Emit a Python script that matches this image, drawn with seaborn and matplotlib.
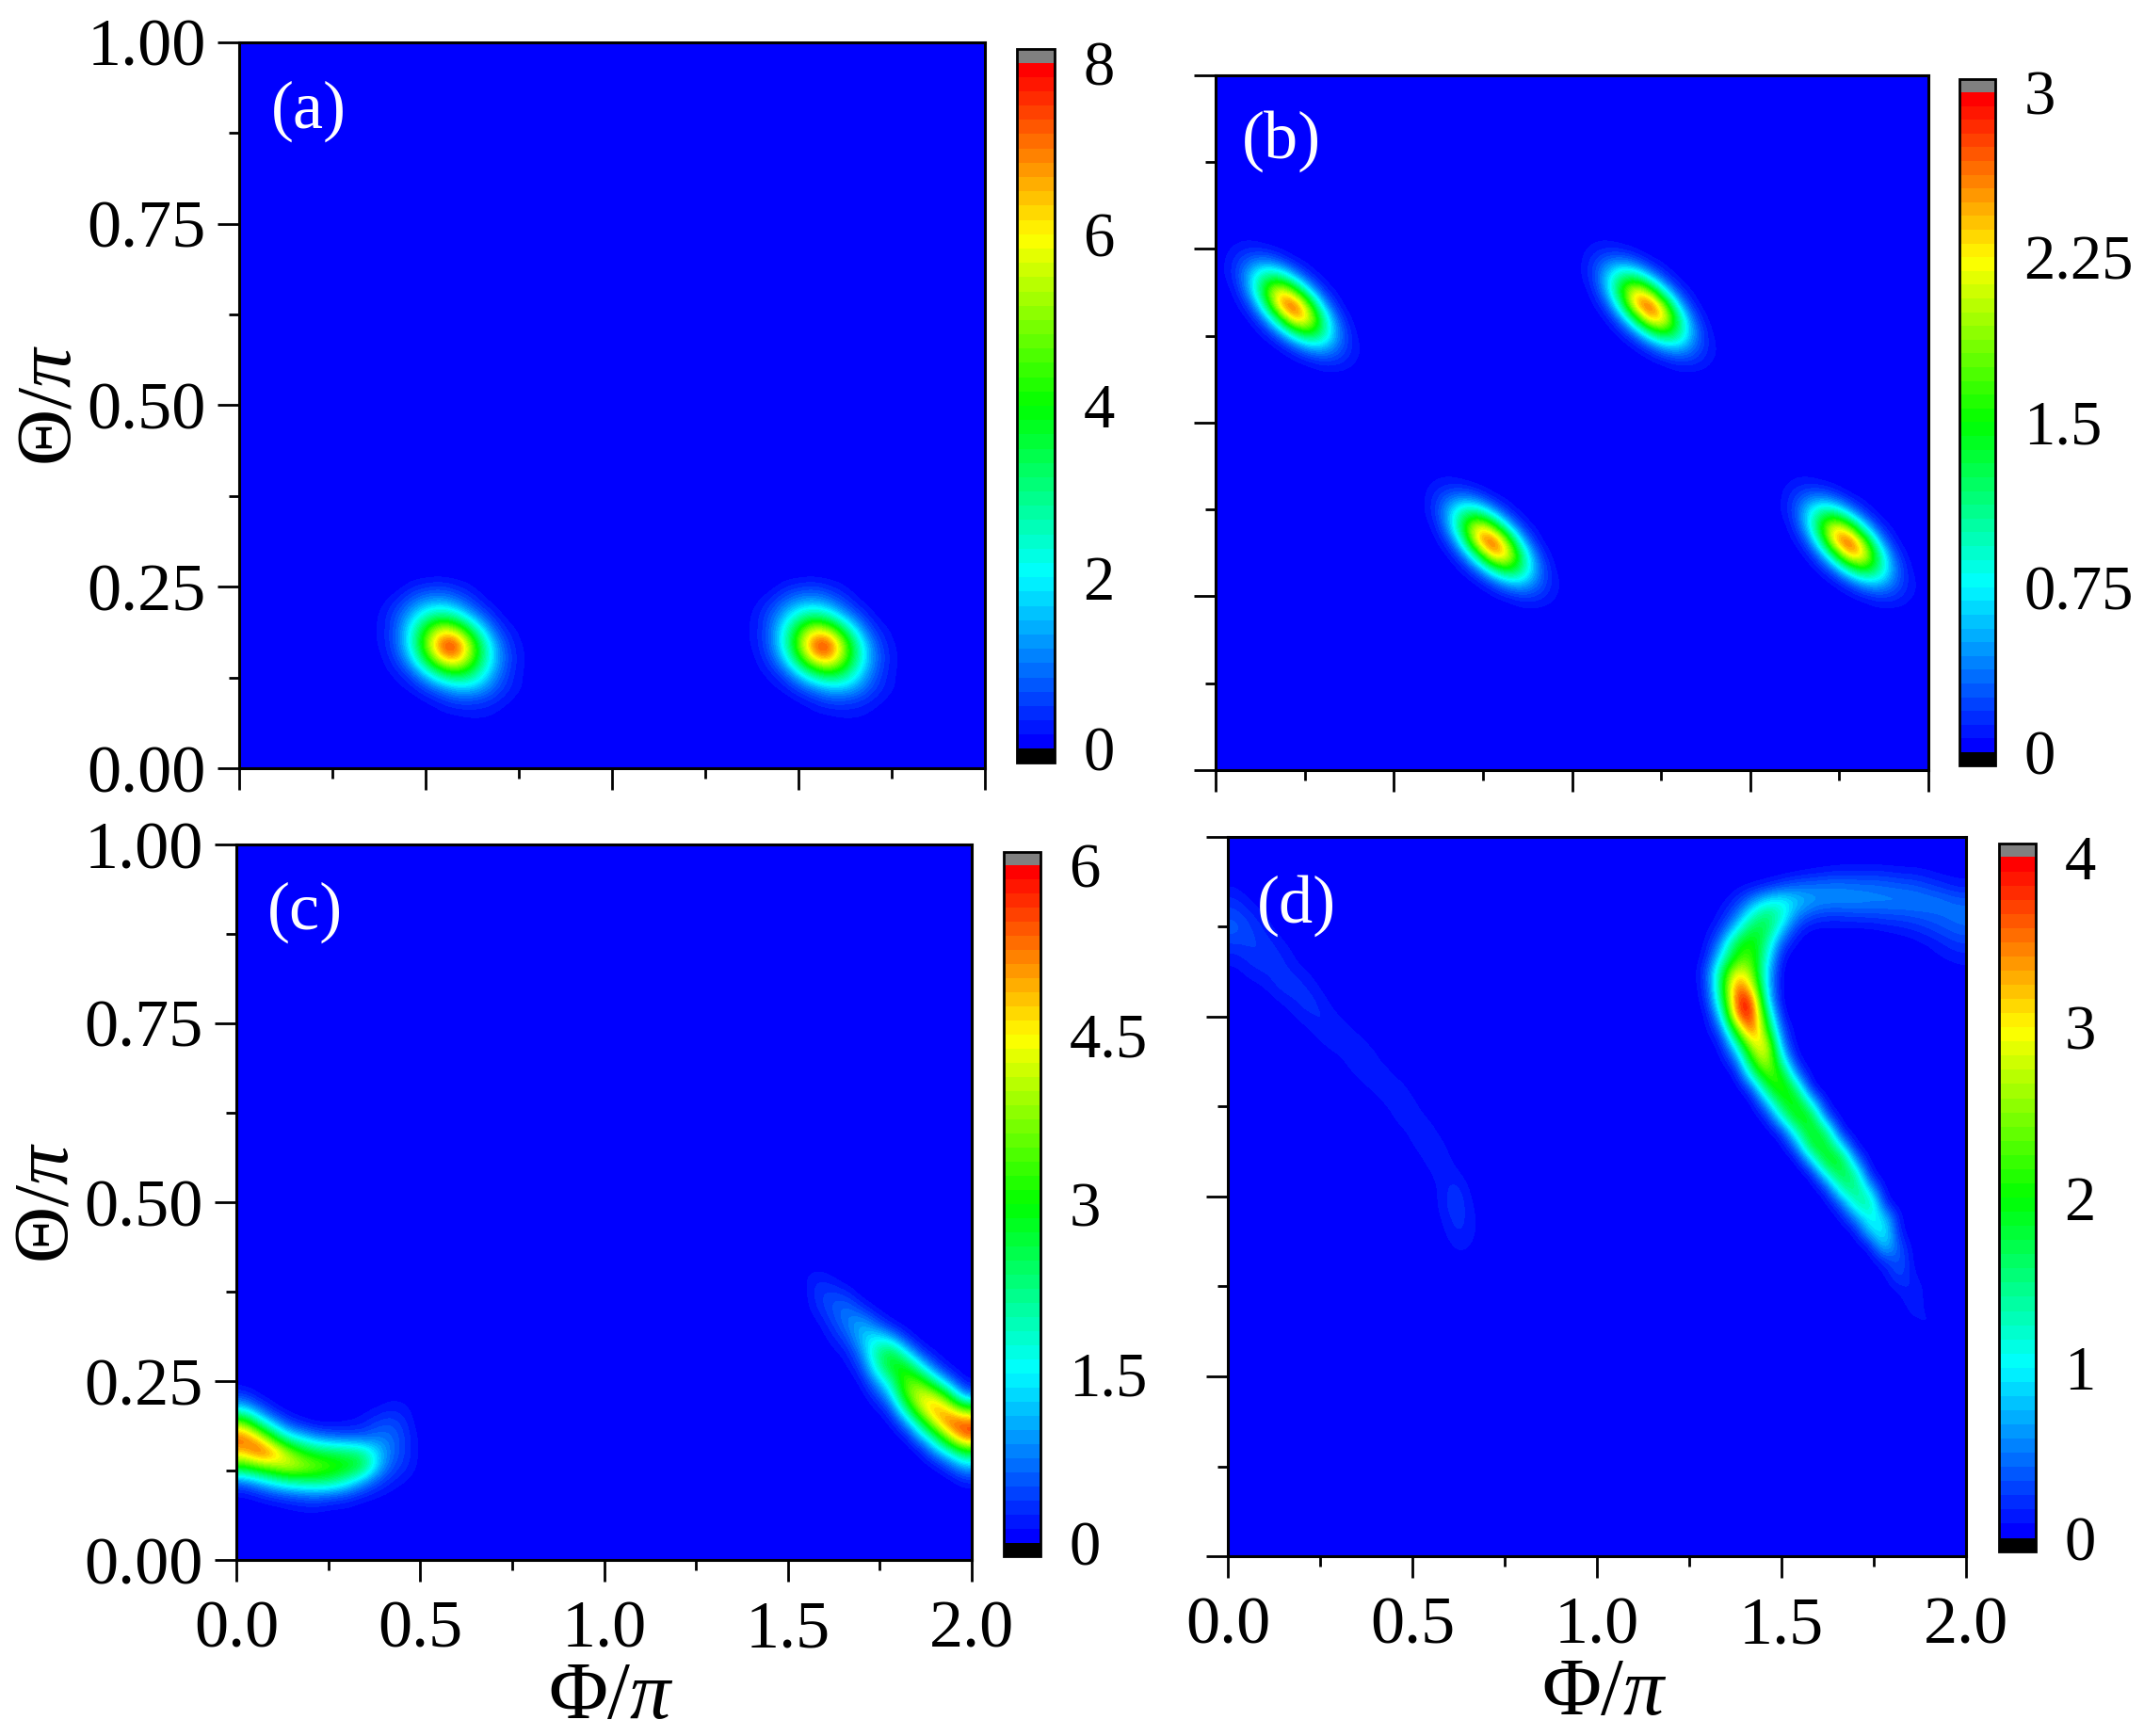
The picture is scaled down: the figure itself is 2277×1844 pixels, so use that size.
import numpy as np
import pandas as pd
import matplotlib
matplotlib.use("Agg")
import matplotlib.pyplot as plt
from matplotlib.colors import LinearSegmentedColormap
from matplotlib.ticker import MultipleLocator
import seaborn as sns

GRID = 50
TOPS = [8, 3, 6, 4]
BAR_TICKS = [[0, 2, 4, 6, 8], [0, 0.75, 1.5, 2.25, 3], [0, 1.5, 3, 4.5, 6], [0, 1, 2, 3, 4]]
BAR_LABELS = [["0", "2", "4", "6", "8"], ["0", "0.75", "1.5", "2.25", "3"],
              ["0", "1.5", "3", "4.5", "6"], ["0", "1", "2", "3", "4"]]
PHI_TICKS = [0.0, 0.5, 1.0, 1.5, 2.0]
THETA_TICKS = [0.0, 0.25, 0.5, 0.75, 1.0]
PANEL_NAMES = ["(a)", "(b)", "(c)", "(d)"]

# (a) two equal spots, reference cell is index [4][5]
a_phi = [0.55, 1.55]
a_theta = [0.166, 0.166]
a_spot = [
    [0, 0, 0, 3, 5, 6, 4, 2, 0, 0, 0, 0],
    [0, 1, 4, 10, 15, 17, 13, 7, 2, 0, 0, 0],
    [1, 2, 8, 18, 31, 38, 32, 18, 8, 2, 0, 0],
    [1, 2, 9, 26, 52, 74, 69, 44, 20, 6, 2, 0],
    [1, 2, 9, 27, 60, 94, 99, 67, 33, 12, 3, 1],
    [0, 1, 6, 19, 46, 76, 86, 63, 34, 14, 4, 1],
    [0, 1, 2, 8, 21, 38, 48, 42, 25, 11, 3, 1],
    [0, 0, 1, 2, 7, 13, 19, 20, 15, 7, 3, 1],
    [0, 0, 0, 0, 1, 3, 6, 6, 5, 3, 1, 0],
    [0, 0, 0, 0, 0, 1, 1, 2, 2, 1, 0, 0],
]

# (b) four equal spots, peak cell is index [5][5]
b_phi = [0.214, 1.213, 0.782, 1.775]
b_theta = [0.667, 0.667, 0.333, 0.333]
b_spot = [
    [0, 1, 1, 0, 0, 0, 0, 0, 0, 0, 0],
    [1, 3, 4, 3, 1, 0, 0, 0, 0, 0, 0],
    [1, 6, 13, 16, 10, 3, 1, 0, 0, 0, 0],
    [1, 6, 22, 40, 39, 19, 5, 1, 0, 0, 0],
    [0, 3, 19, 54, 80, 60, 24, 5, 1, 0, 0],
    [0, 1, 8, 37, 87, 98, 62, 19, 3, 0, 0],
    [0, 0, 2, 13, 46, 87, 80, 39, 10, 1, 0],
    [0, 0, 0, 3, 13, 37, 54, 40, 16, 3, 0],
    [0, 0, 0, 0, 2, 8, 19, 22, 13, 4, 1],
    [0, 0, 0, 0, 0, 1, 3, 6, 6, 3, 1],
    [0, 0, 0, 0, 0, 0, 0, 1, 1, 1, 0],
]

# (c) left band, cols 0-12, rows 38-46
c_left_col0, c_left_row0 = 0, 38
c_left = [
    [6, 1, 0, 0, 0, 0, 0, 0, 0, 0, 1, 1, 0],
    [24, 12, 3, 0, 0, 0, 0, 0, 1, 2, 4, 3, 0],
    [65, 38, 20, 8, 3, 1, 1, 2, 3, 7, 9, 5, 0],
    [92, 80, 52, 30, 23, 15, 12, 11, 10, 13, 12, 6, 1],
    [80, 94, 88, 68, 52, 45, 42, 40, 37, 24, 12, 6, 1],
    [50, 58, 65, 72, 68, 62, 57, 52, 46, 23, 9, 5, 1],
    [12, 20, 28, 35, 38, 40, 38, 30, 18, 9, 4, 2, 0],
    [1, 3, 6, 8, 10, 11, 9, 7, 4, 2, 1, 0, 0],
    [0, 0, 0, 1, 2, 2, 1, 1, 0, 0, 0, 0, 0],
]

# (c) right band, cols 38-49, rows 29-44
c_right_col0, c_right_row0 = 38, 29
c_right = [
    [1, 1, 0, 0, 0, 0, 0, 0, 0, 0, 0, 0],
    [1, 5, 3, 0, 0, 0, 0, 0, 0, 0, 0, 0],
    [0, 6, 8, 6, 0, 0, 0, 0, 0, 0, 0, 0],
    [0, 4, 9, 13, 7, 1, 0, 0, 0, 0, 0, 0],
    [0, 1, 6, 13, 19, 10, 2, 0, 0, 0, 0, 0],
    [0, 0, 3, 8, 20, 27, 19, 5, 0, 0, 0, 0],
    [0, 0, 1, 3, 14, 35, 47, 25, 6, 1, 0, 0],
    [0, 0, 0, 1, 7, 30, 50, 52, 28, 8, 1, 0],
    [0, 0, 0, 0, 2, 16, 34, 60, 58, 33, 12, 1],
    [0, 0, 0, 0, 0, 6, 20, 56, 75, 70, 45, 12],
    [0, 0, 0, 0, 0, 1, 7, 34, 68, 87, 78, 58],
    [0, 0, 0, 0, 0, 0, 1, 12, 38, 70, 93, 94],
    [0, 0, 0, 0, 0, 0, 0, 1, 15, 35, 66, 90],
    [0, 0, 0, 0, 0, 0, 0, 0, 1, 14, 27, 45],
    [0, 0, 0, 0, 0, 0, 0, 0, 0, 1, 8, 18],
    [0, 0, 0, 0, 0, 0, 0, 0, 0, 0, 0, 4],
]

# (d) main arc, one list per row from row 2, each starting at its own column
d_main_row0 = 2
d_main_cols = [38, 34, 33, 33, 32, 32, 32, 32, 32, 32, 32, 32, 33, 33, 34, 35, 36, 36,
               37, 38, 39, 39, 40, 41, 41, 42, 43, 44, 44, 45, 46, 46, 47]
d_main = [
    [1, 2, 3, 4, 4, 4, 4, 3, 3, 2, 1, 1],
    [1, 2, 4, 8, 11, 12, 13, 13, 12, 12, 11, 10, 9, 7, 5, 3],
    [1, 5, 14, 24, 27, 22, 17, 15, 15, 15, 14, 14, 14, 14, 13, 12, 10],
    [3, 12, 30, 42, 32, 14, 8, 6, 6, 7, 7, 8, 8, 9, 10, 11, 12],
    [1, 7, 25, 46, 44, 21, 5, 1, 1, 1, 1, 1, 2, 3, 4, 6, 8, 10],
    [2, 17, 47, 55, 35, 8, 1, 0, 0, 0, 0, 0, 0, 0, 1, 2, 4, 6],
    [4, 28, 55, 58, 28, 2, 0, 0, 0, 0, 0, 0, 0, 0, 0, 1, 2, 3],
    [8, 43, 78, 64, 22, 0, 0, 0, 0, 0, 0, 0, 0, 0, 0, 0, 0, 1],
    [6, 45, 95, 76, 22],
    [4, 38, 98, 100, 25],
    [1, 24, 92, 100, 42, 2],
    [1, 10, 58, 97, 55, 8],
    [3, 30, 72, 78, 14],
    [1, 12, 53, 76, 30, 2],
    [2, 33, 62, 52, 12],
    [8, 42, 60, 38, 2],
    [18, 47, 55, 25, 1],
    [3, 28, 52, 50, 10],
    [5, 32, 52, 40, 3],
    [12, 47, 50, 25, 1],
    [20, 50, 50, 14],
    [1, 26, 47, 37, 2],
    [4, 32, 42, 20],
    [9, 33, 38, 3],
    [1, 14, 30, 22, 1],
    [1, 22, 28, 2],
    [2, 24, 8],
    [5, 11],
    [1, 9, 2],
    [3, 5],
    [5],
    [2, 3],
    [2],
]

# (d) faint band on the left, from row 3
d_faint_row0 = 3
d_faint_cols = [0, 0, 0, 0, 0, 0, 0, 1, 3, 4, 5, 6, 7, 8, 9, 10, 11, 11, 12, 13, 13, 14, 14,
                14, 14, 15, 15]
d_faint = [
    [2],
    [5, 2],
    [8, 5, 2],
    [10, 7, 4, 1],
    [6, 7, 6, 3, 1],
    [3, 5, 7, 5, 2],
    [1, 3, 4, 6, 4, 2],
    [1, 2, 5, 6, 4, 1],
    [2, 4, 6, 3],
    [2, 4, 5, 2],
    [2, 4, 5, 2],
    [2, 4, 5, 2],
    [1, 4, 5, 1],
    [2, 4, 4, 1],
    [2, 4, 4, 1],
    [2, 4, 3],
    [3, 4, 2],
    [1, 3, 4, 1],
    [2, 4, 3],
    [3, 4, 1],
    [1, 4, 3],
    [3, 6, 1],
    [3, 7, 2],
    [2, 6, 3],
    [1, 5, 3],
    [3, 2],
    [1, 1],
]


def grid_col(phi):
    return int(round(phi / 2 * GRID - 0.5))


def grid_row(theta):
    return int(round((1 - theta) * GRID - 0.5))


def paste(field, col, row, rows):
    for i, vals in enumerate(rows):
        field[row + i, col:col + len(vals)] = vals


def paste_rows(field, row0, cols, rows):
    for i, (col, vals) in enumerate(zip(cols, rows)):
        field[row0 + i, col:col + len(vals)] = vals


def build_fields():
    fields = [np.zeros((GRID, GRID)) for _ in range(4)]
    for phi, theta in zip(a_phi, a_theta):
        paste(fields[0], grid_col(phi) - 5, grid_row(theta) - 4, a_spot)
    for phi, theta in zip(b_phi, b_theta):
        paste(fields[1], grid_col(phi) - 5, grid_row(theta) - 5, b_spot)
    paste(fields[2], c_left_col0, c_left_row0, c_left)
    paste(fields[2], c_right_col0, c_right_row0, c_right)
    paste_rows(fields[3], d_main_row0, d_main_cols, d_main)
    paste_rows(fields[3], d_faint_row0, d_faint_cols, d_faint)
    return [pd.DataFrame(f * top / 100) for f, top in zip(fields, TOPS)]


sns.set_theme(style="ticks", rc={"axes.linewidth": 2.2, "text.color": "black",
                                 "axes.labelcolor": "black", "xtick.color": "black",
                                 "ytick.color": "black"})
plt.rcParams["font.family"] = ["Liberation Serif", "DejaVu Serif"]
plt.rcParams["mathtext.fontset"] = "custom"
plt.rcParams["mathtext.rm"] = "Liberation Serif"
plt.rcParams["mathtext.it"] = "Liberation Serif:italic"

W, H = 2277, 1844
FS = 52

# pixel boxes: left, right, top, bottom
AX_BOX = [(254, 1046, 45, 816), (1291, 2048, 80, 818), (251, 1032, 897, 1657), (1304, 2088, 889, 1653)]
BAR_BOX = [(1080, 1120, 52, 810), (2081, 2119, 84, 813), (1066, 1105, 905, 1653), (2123, 2162, 896, 1648)]

bar_cmap = LinearSegmentedColormap.from_list(
    "blue_red", ["#0000ff", "#00ffff", "#00ff00", "#ffff00", "#ff0000"], N=48)
bar_cmap.set_under("black")
bar_cmap.set_over("#808080")
img_cmap = bar_cmap.copy()
img_cmap.set_under("#0000ff")


def add_box(fig, box):
    l, r, t, b = box
    return fig.add_axes([l / W, 1 - b / H, (r - l) / W, (b - t) / H])


fig = plt.figure(figsize=(W / 100, H / 100), dpi=100)
fields = build_fields()

for i, df in enumerate(fields):
    ax = add_box(fig, AX_BOX[i])
    cax = add_box(fig, BAR_BOX[i])
    sns.heatmap(df, ax=ax, cbar_ax=cax, cmap=bar_cmap, vmin=0, vmax=TOPS[i],
                xticklabels=False, yticklabels=False,
                cbar_kws={"extend": "both", "extendrect": True, "extendfrac": 0.02})
    mesh = ax.collections[0]
    cb = mesh.colorbar
    mesh.set_visible(False)

    # same cells, smoothed on screen
    ax.imshow(df.values, cmap=img_cmap, vmin=0, vmax=TOPS[i], extent=(0, GRID, GRID, 0),
              aspect="auto", interpolation="bicubic", interpolation_stage="data")
    ax.set_xlim(0, GRID)
    ax.set_ylim(GRID, 0)

    for s in ax.spines.values():
        s.set_visible(True)
        s.set_linewidth(2.2)
        s.set_color("black")

    ax.set_xticks([p / 2 * GRID for p in PHI_TICKS])
    ax.set_yticks([(1 - t) * GRID for t in THETA_TICKS])
    ax.xaxis.set_minor_locator(MultipleLocator(GRID / 8))
    ax.yaxis.set_minor_locator(MultipleLocator(GRID / 8))
    ax.tick_params(which="major", direction="out", length=16.5, width=2, colors="black",
                   labelsize=FS, bottom=True, left=True)
    ax.tick_params(axis="x", which="major", pad=14)
    ax.tick_params(axis="y", which="major", pad=9)
    ax.tick_params(which="minor", direction="out", length=8, width=2, color="black",
                   bottom=True, left=True)

    if i in (2, 3):
        ax.set_xticklabels(["%.1f" % p for p in PHI_TICKS])
        ax.set_xlabel("Φ/$\\pi$", fontsize=62, labelpad=0, x=0.51)
    else:
        ax.set_xticklabels([])
        ax.set_xlabel("")
    if i in (0, 2):
        ax.set_yticklabels(["%.2f" % t for t in THETA_TICKS], rotation=0)
        ax.set_ylabel("Θ/$\\pi$", fontsize=60, labelpad=0)
    else:
        ax.set_yticklabels([])
        ax.set_ylabel("")

    ax.text(0.093, 0.905, PANEL_NAMES[i], transform=ax.transAxes, color="white",
            fontsize=FS, ha="center", va="center")

    cb.set_ticks(BAR_TICKS[i])
    cb.set_ticklabels(BAR_LABELS[i])
    cb.ax.minorticks_off()
    cb.ax.tick_params(length=0, labelsize=48, pad=22)
    cb.outline.set_linewidth(2)
    cb.outline.set_edgecolor("black")

fig.savefig("out.png", dpi=100)
